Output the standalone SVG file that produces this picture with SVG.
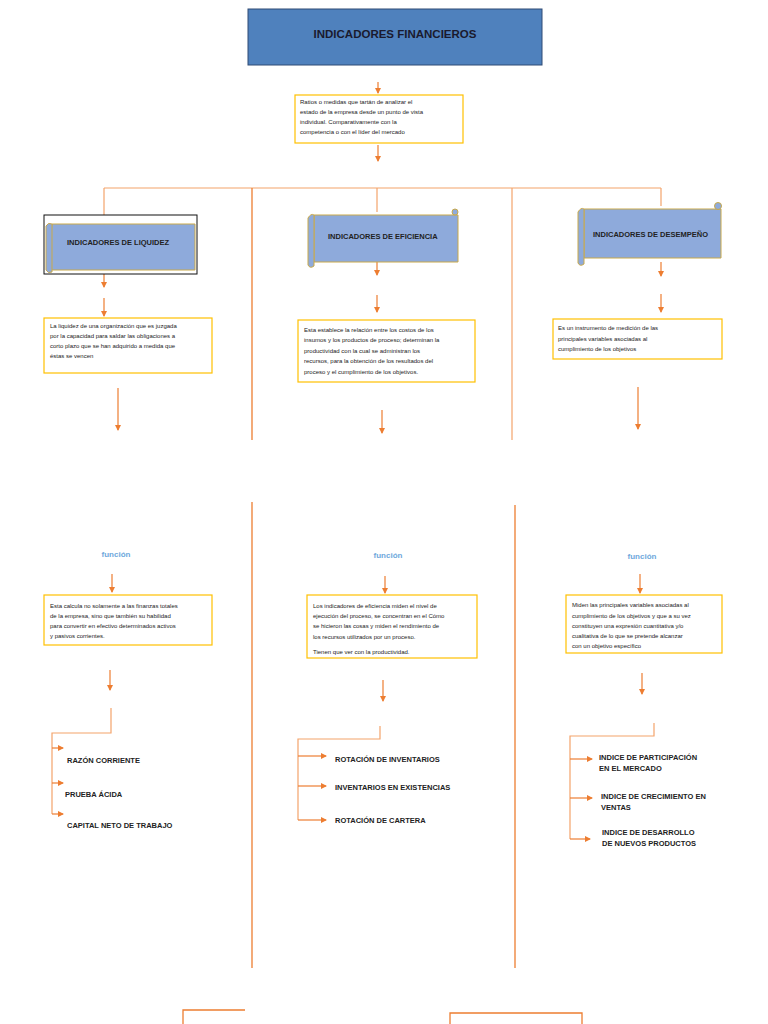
<svg xmlns="http://www.w3.org/2000/svg" width="768" height="1024" viewBox="0 0 768 1024">
<defs>
<marker id="ah" markerWidth="6" markerHeight="6" refX="5" refY="3" orient="auto" markerUnits="userSpaceOnUse"><path d="M0,0 L6,3 L0,6 z" fill="#ed7d31"/></marker>
</defs>
<style>
.c{stroke:#f4a36b;stroke-width:1.2;fill:none}
.a{stroke:#ed7d31;stroke-width:1.2;fill:none;marker-end:url(#ah)}
.v{stroke:#ed7d31;stroke-width:1.3;fill:none}
.box{fill:#fff;stroke:#ffc000;stroke-width:1.2}
.t{font-family:"Liberation Sans",Arial,sans-serif;font-size:6px;fill:#222}
.h{font-family:"Liberation Sans",Arial,sans-serif;font-size:7.5px;font-weight:bold;fill:#222}
.f{font-family:"Liberation Sans",Arial,sans-serif;font-size:8px;font-weight:bold;fill:#6fa8dc}
.scroll{fill:#8eaadb;stroke:#c9a94a;stroke-width:1}
</style>
<rect width="768" height="1024" fill="#fff"/>
<g id="connectors">
<line class="a" x1="378" y1="82" x2="378" y2="93"/>
<line class="a" x1="378" y1="145" x2="378" y2="161"/>
<line class="c" x1="104" y1="188" x2="661" y2="188"/>
<line class="c" x1="104" y1="188" x2="104" y2="222"/>
<line class="c" x1="377" y1="188" x2="377" y2="212"/>
<line class="c" x1="661" y1="188" x2="661" y2="206"/>
<line class="v" x1="252" y1="188" x2="252" y2="440"/>
<line class="c" x1="512" y1="188" x2="512" y2="440"/>
<line class="v" x1="252" y1="502" x2="252" y2="968"/>
<line class="v" x1="515" y1="505" x2="515" y2="968"/>
<line class="a" x1="104" y1="272" x2="104" y2="287"/>
<line class="a" x1="104" y1="298" x2="104" y2="316"/>
<line class="a" x1="118" y1="388" x2="118" y2="430"/>
<line class="a" x1="377" y1="262" x2="377" y2="275"/>
<line class="a" x1="377" y1="295" x2="377" y2="312"/>
<line class="a" x1="382" y1="410" x2="382" y2="433"/>
<line class="a" x1="661" y1="262" x2="661" y2="276"/>
<line class="a" x1="661" y1="294" x2="661" y2="312"/>
<line class="a" x1="638" y1="387" x2="638" y2="429"/>
<line class="a" x1="112" y1="574" x2="112" y2="592"/>
<line class="a" x1="385" y1="576" x2="385" y2="593"/>
<line class="a" x1="640" y1="574" x2="640" y2="593"/>
<line class="a" x1="110" y1="670" x2="110" y2="690"/>
<line class="a" x1="383" y1="680" x2="383" y2="701"/>
<line class="a" x1="642" y1="673" x2="642" y2="694"/>
<path class="c" d="M111,708 V733 H52 V814"/>
<line class="a" x1="52" y1="748" x2="63" y2="748"/>
<line class="a" x1="52" y1="783" x2="63" y2="783"/>
<line class="a" x1="52" y1="814" x2="63" y2="814"/>
<path class="c" d="M380,726 V739 H298 V820"/>
<line class="a" x1="298" y1="756" x2="326" y2="756"/>
<line class="a" x1="298" y1="786" x2="326" y2="786"/>
<line class="a" x1="298" y1="820" x2="326" y2="820"/>
<path class="c" d="M654,723 V736 H570 V839"/>
<line class="a" x1="570" y1="759" x2="592" y2="759"/>
<line class="a" x1="570" y1="798" x2="592" y2="798"/>
<line class="a" x1="570" y1="839" x2="590" y2="839"/>
<path class="v" d="M183,1024 V1010 H245"/>
<path class="v" d="M450,1024 V1013 H582 V1024"/>
</g>
<g id="title">
<rect x="248" y="9" width="294" height="56" fill="#4f81bd" stroke="#2f4b75" stroke-width="1"/>
<text x="395" y="38" text-anchor="middle" font-family="Liberation Sans,Arial,sans-serif" font-size="11.5" font-weight="bold" fill="#1a1a2e">INDICADORES FINANCIEROS</text>
</g>
<g id="def">
<rect class="box" x="295" y="95" width="168" height="48"/>
<text class="t" x="300" y="104">Ratios o medidas que tartán de analizar el</text>
<text class="t" x="300" y="114">estado de la empresa desde un punto de vista</text>
<text class="t" x="300" y="124">individual. Comparativamente con la</text>
<text class="t" x="300" y="134">competencia o con el líder del mercado</text>
</g>
<g id="liquidez">
<rect x="44" y="215" width="153" height="59" fill="#fff" stroke="#111" stroke-width="1"/>
<path class="scroll" d="M52,224 H195 V270 H48 Z"/>
<path class="scroll" d="M46,226 q2,-4 6,-2 V272 q-4,2 -6,-2 Z"/>
<text class="h" x="67" y="245">INDICADORES DE LIQUIDEZ</text>
</g>
<g id="eficiencia">
<path class="scroll" d="M314,215 H458 V262 H314 Z"/>
<path class="scroll" d="M308,218 q3,-5 6,-3 V266 q-4,3 -6,-1 Z"/>
<circle cx="455" cy="212" r="3" class="scroll"/>
<text class="h" x="328" y="239">INDICADORES DE EFICIENCIA</text>
</g>
<g id="desempeno">
<path class="scroll" d="M584,209 H721 V258 H584 Z"/>
<path class="scroll" d="M578,212 q3,-5 6,-3 V264 q-4,3 -6,-1 Z"/>
<circle cx="718" cy="206" r="3.5" class="scroll"/>
<text class="h" x="593" y="237">INDICADORES DE DESEMPEÑO</text>
</g>
<g id="box1">
<rect class="box" x="44" y="318" width="168" height="55"/>
<text class="t" x="50" y="328">La liquidez de una organización que es juzgada</text>
<text class="t" x="50" y="338">por la capacidad para saldar las obligaciones a</text>
<text class="t" x="50" y="348">corto plazo que se han adquirido a medida que</text>
<text class="t" x="50" y="358">éstas se vencen</text>
</g>
<g id="box2">
<rect class="box" x="298" y="320" width="177" height="62"/>
<text class="t" x="304" y="332">Esta establece la relación entre los costos de los</text>
<text class="t" x="304" y="342">insumos y los productos de proceso; determinan la</text>
<text class="t" x="304" y="353">productividad con la cual se administran los</text>
<text class="t" x="304" y="363">recursos, para la obtención de los resultados del</text>
<text class="t" x="304" y="374">proceso y el cumplimiento de los objetivos.</text>
</g>
<g id="box3">
<rect class="box" x="553" y="319" width="169" height="40"/>
<text class="t" x="558" y="330">Es un instrumento de medición de las</text>
<text class="t" x="558" y="341">principales   variables   asociadas   al</text>
<text class="t" x="558" y="351">cumplimiento de los objetivos</text>
</g>
<g id="func1"><text class="f" x="116" y="557" text-anchor="middle">función</text></g>
<g id="func2"><text class="f" x="388" y="558" text-anchor="middle">función</text></g>
<g id="func3"><text class="f" x="642" y="559" text-anchor="middle">función</text></g>
<g id="box4">
<rect class="box" x="44" y="595" width="168" height="50"/>
<text class="t" x="50" y="608">Esta calcula no solamente a las finanzas totales</text>
<text class="t" x="50" y="618">de la empresa, sino que también su habilidad</text>
<text class="t" x="50" y="628">para convertir en efectivo determinados activos</text>
<text class="t" x="50" y="638">y pasivos corrientes.</text>
</g>
<g id="box5">
<rect class="box" x="307" y="595" width="170" height="63"/>
<text class="t" x="313" y="608">Los indicadores de eficiencia miden el nivel de</text>
<text class="t" x="313" y="618">ejecución del proceso, se concentran en el Cómo</text>
<text class="t" x="313" y="628">se hicieron las cosas y miden el rendimiento de</text>
<text class="t" x="313" y="639">los recursos utilizados por un proceso.</text>
<text class="t" x="313" y="654">Tienen que ver con la productividad.</text>
</g>
<g id="box6">
<rect class="box" x="566" y="595" width="156" height="58"/>
<text class="t" x="572" y="607">Miden las principales variables asociadas al</text>
<text class="t" x="572" y="618">cumplimiento de los objetivos y que a su vez</text>
<text class="t" x="572" y="628">constituyen una expresión cuantitativa y/o</text>
<text class="t" x="572" y="638">cualitativa de lo que se pretende alcanzar</text>
<text class="t" x="572" y="648">con un objetivo específico</text>
</g>
<g id="items-liquidez">
<text class="h" x="67" y="763">RAZÓN CORRIENTE</text>
<text class="h" x="65" y="797">PRUEBA ÁCIDA</text>
<text class="h" x="67" y="828">CAPITAL NETO DE TRABAJO</text>
</g>
<g id="items-eficiencia">
<text class="h" x="335" y="762">ROTACIÓN DE INVENTARIOS</text>
<text class="h" x="335" y="790">INVENTARIOS EN EXISTENCIAS</text>
<text class="h" x="335" y="823">ROTACIÓN DE CARTERA</text>
</g>
<g id="items-desempeno">
<text class="h" x="599" y="760">INDICE DE PARTICIPACIÓN</text>
<text class="h" x="599" y="771">EN EL MERCADO</text>
<text class="h" x="601" y="799">INDICE DE CRECIMIENTO EN</text>
<text class="h" x="601" y="810">VENTAS</text>
<text class="h" x="602" y="835">INDICE DE DESARROLLO</text>
<text class="h" x="602" y="846">DE NUEVOS PRODUCTOS</text>
</g>
</svg>
